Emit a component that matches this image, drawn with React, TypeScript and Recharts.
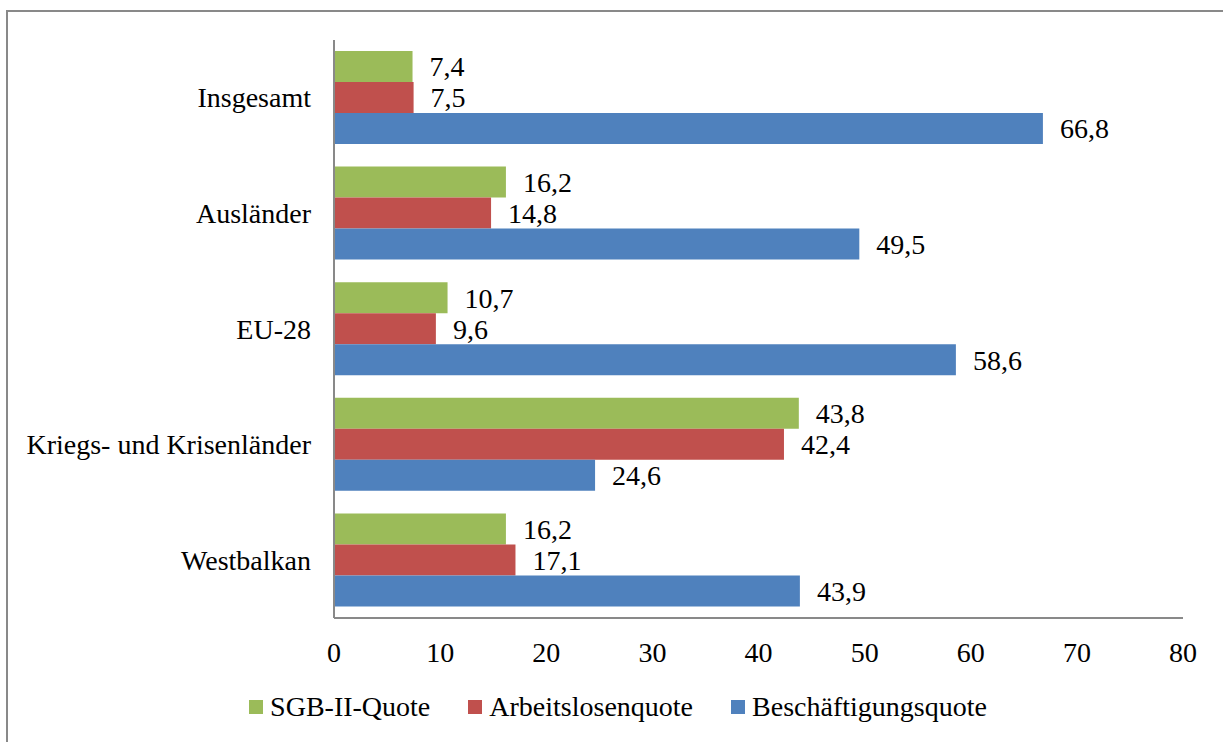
import React from 'react';
import { BarChart, Bar, XAxis, YAxis, LabelList } from 'recharts';

const categories = ['Insgesamt', 'Ausländer', 'EU-28', 'Kriegs- und Krisenländer', 'Westbalkan'];
const sgbQuote = [7.4, 16.2, 10.7, 43.8, 16.2];
const arbeitslosenQuote = [7.5, 14.8, 9.6, 42.4, 17.1];
const beschaeftigungsQuote = [66.8, 49.5, 58.6, 24.6, 43.9];
const xTicks = [0, 10, 20, 30, 40, 50, 60, 70, 80];

const seriesNames = ['SGB-II-Quote', 'Arbeitslosenquote', 'Beschäftigungsquote'];
const seriesKeys = ['sgb', 'alq', 'beq'];
const seriesColors = ['#9BBB59', '#C0504D', '#4F81BD'];

const data = categories.map((c, i) => ({
  name: c,
  sgb: sgbQuote[i],
  alq: arbeitslosenQuote[i],
  beq: beschaeftigungsQuote[i],
}));

const FONT = '"Liberation Serif", "Times New Roman", serif';
const FS = 28;
const AXIS_COLOR = '#898989';

const fmt = (v: any) => Number(v).toFixed(1).replace('.', ',');

const YTick = (props: any) => {
  const { x, y, payload } = props;
  return (
    <text x={x - 23} y={y} textAnchor="end" dominantBaseline="central" fontFamily={FONT} fontSize={FS} fill="#000">
      {payload.value}
    </text>
  );
};

const XTick = (props: any) => {
  const { x, y, payload } = props;
  return (
    <text x={x} y={y + 44} textAnchor="middle" fontFamily={FONT} fontSize={FS} fill="#000">
      {payload.value}
    </text>
  );
};

export default function App() {
  return (
    <div style={{ position: 'absolute', left: 0, top: 0, width: 1223, height: 742, overflow: 'hidden', background: '#fff' }}>
      <div
        style={{
          position: 'absolute',
          left: 6,
          top: 10,
          width: 1300,
          height: 800,
          border: `2px solid ${AXIS_COLOR}`,
          boxSizing: 'border-box',
        }}
      />
      <div style={{ position: 'absolute', left: 0, top: 0 }}>
        <BarChart
          width={1223}
          height={742}
          data={data}
          layout="vertical"
          margin={{ top: 40, right: 40, bottom: 64, left: 1 }}
          barGap={0}
          barSize={31}
        >
          <XAxis
            type="number"
            domain={[0, 80]}
            ticks={xTicks}
            interval={0}
            tickLine={false}
            tickSize={0}
            tickMargin={0}
            height={60}
            axisLine={{ stroke: AXIS_COLOR, strokeWidth: 2 }}
            tick={<XTick />}
          />
          <YAxis
            type="category"
            dataKey="name"
            width={333}
            tickLine={false}
            tickSize={0}
            tickMargin={0}
            interval={0}
            axisLine={{ stroke: AXIS_COLOR, strokeWidth: 2 }}
            tick={<YTick />}
          />
          {seriesKeys.map((k, i) => (
            <Bar key={k} dataKey={k} name={seriesNames[i]} fill={seriesColors[i]} isAnimationActive={false}>
              <LabelList
                dataKey={k}
                position="right"
                offset={17}
                formatter={fmt}
                fill="#000"
                fontSize={FS}
                fontFamily={FONT}
              />
            </Bar>
          ))}
        </BarChart>
      </div>
      <div
        style={{
          position: 'absolute',
          left: 0,
          top: 690,
          width: 1236,
          display: 'flex',
          justifyContent: 'center',
          alignItems: 'center',
          gap: 38,
          fontFamily: FONT,
          fontSize: FS,
          color: '#000',
          lineHeight: '34px',
        }}
      >
        {seriesNames.map((n, i) => (
          <div key={n} style={{ display: 'flex', alignItems: 'center' }}>
            <span style={{ display: 'inline-block', width: 14, height: 14, background: seriesColors[i], marginRight: 7 }} />
            <span>{n}</span>
          </div>
        ))}
      </div>
    </div>
  );
}
